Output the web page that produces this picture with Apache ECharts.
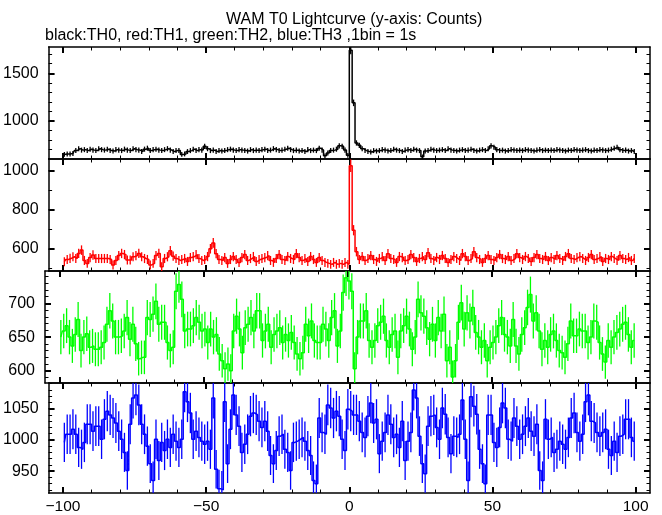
<!DOCTYPE html>
<html><head><meta charset="utf-8">
<script src="https://cdn.jsdelivr.net/npm/echarts@6/dist/echarts.min.js"></script>
<style>html,body{margin:0;padding:0;background:#fff}#c{width:662px;height:515px}</style>
</head><body><div id="c"></div>
<script>
const titleText = 'WAM T0 Lightcurve (y-axis: Counts)';
const subtitleText = 'black:TH0, red:TH1, green:TH2, blue:TH3 ,1bin = 1s';
const binStart = -99.5; // centre of first 1 s bin
const th0 = [
650,655,655,660,690,710,695,700,690,705,
695,690,710,700,695,705,690,685,700,695,
690,705,695,690,710,700,695,680,705,715,
690,700,705,695,690,700,710,695,680,690,
690,650,655,680,690,705,690,700,695,735,
710,690,695,680,690,685,690,700,705,695,
690,700,695,690,685,700,690,695,690,700,
705,690,695,710,700,690,695,705,715,700,
690,695,685,690,680,700,690,695,690,715,
695,635,665,690,695,705,740,735,695,640,
1740,1190,770,745,710,690,680,675,690,685,
690,700,695,685,690,705,695,690,680,695,
700,690,705,695,690,625,685,690,705,695,
690,695,700,690,710,695,690,685,695,700,
690,695,705,690,685,695,700,690,710,740,
725,700,690,695,685,690,700,695,690,695,
690,700,695,690,685,695,700,690,695,690,
695,690,700,695,690,685,695,690,700,695,
690,695,700,690,685,695,690,700,695,690,
695,705,715,725,700,690,695,685,690,680];
const th1 = [
534,545,551,559,550,576,593,540,525,555,
568,550,550,550,550,550,545,517,540,565,
576,570,542,542,559,565,576,559,550,545,
517,525,565,576,508,550,559,590,562,550,
540,545,550,535,555,560,570,550,540,545,
560,600,630,575,545,540,555,525,545,560,
545,530,555,570,540,550,560,535,545,550,
555,565,540,530,550,570,545,540,560,550,
545,575,555,540,550,535,560,545,530,555,
540,530,525,520,530,520,525,520,530,520,
1025,695,585,545,560,540,550,565,545,535,
550,560,540,575,550,545,530,560,555,540,
545,570,555,535,550,560,545,580,550,540,
555,545,565,550,530,545,560,550,540,575,
560,540,550,585,555,545,530,550,565,545,
540,555,570,550,545,560,540,550,575,555,
545,560,550,535,555,570,550,545,560,540,
555,545,565,550,540,560,575,550,545,555,
560,550,540,555,570,545,550,560,535,550,
545,560,550,540,565,550,545,555,540,550];
const th2 = [
650,659,667,650,637,654,676,630,650,655,
635,637,632,632,635,642,669,689,674,650,
650,652,659,679,647,669,640,618,620,620,
679,676,684,703,669,672,672,642,630,635,
718,728,706,659,662,662,667,679,672,659,
662,642,662,650,654,625,615,603,610,600,
659,681,662,627,664,669,679,659,689,689,
645,659,669,635,654,659,664,642,654,645,
657,642,625,618,627,669,652,674,645,642,
642,669,662,645,679,689,637,659,716,738,
733,718,603,650,674,674,689,645,635,645,
667,672,681,645,635,654,659,620,659,667,
681,662,632,650,706,686,681,664,647,669,
645,679,659,684,615,635,591,615,672,701,
662,686,674,694,657,650,635,645,615,635,
642,650,667,679,654,650,637,676,637,625,
654,664,694,713,674,686,659,632,645,635,
654,659,645,630,627,620,640,674,652,652,
662,659,659,642,650,674,672,642,625,613,
645,635,650,657,662,669,672,654,635,645];
const th3 = [
996,1009,1009,1017,1009,988,985,996,1025,1025,
1014,1022,1022,1001,1033,1046,1040,1035,1027,1014,
1001,980,951,1025,1067,1072,1056,1025,1009,990,
962,935,1001,967,996,983,1001,988,1009,998,
988,1001,1077,1061,1043,1001,1014,1004,998,993,
998,985,1067,953,922,920,1061,962,1017,1072,
1040,1022,980,993,1009,1038,1043,1040,1030,1020,
1030,1014,975,962,983,1006,1009,985,980,951,
996,998,1001,1004,998,983,975,935,930,1035,
1012,1009,1056,1051,1035,1046,1038,1001,983,1049,
1046,1040,1040,1030,1012,1004,1038,1059,1027,1033,
978,998,1012,1040,1025,1004,1009,988,1030,967,
998,1012,1080,1067,1006,962,946,1022,1038,1040,
1020,1001,1051,1041,1004,978,1006,1004,1009,1064,
1001,935,1069,1054,1041,985,962,930,1040,1040,
996,988,1020,1059,1051,1001,998,1035,1022,1001,
1009,1022,1035,1014,1006,1025,951,935,1033,1001,
1004,980,985,998,993,985,1004,1035,1043,1012,
998,1009,1061,1072,1030,1027,1012,1006,1012,1017,
985,975,998,980,1006,1009,1033,1033,1004,998];
const xMajorTicks = [-100,-50,0,50,100];
const xMinorTicks = [-100,-90,-80,-70,-60,-50,-40,-30,-20,-10,0,10,20,30,40,50,60,70,80,90,100];
const yMajorTicks = [[1000,1500],[600,800,1000],[600,650,700],[950,1000,1050]];
const yMinorTicks = [
  [700,800,900,1000,1100,1200,1300,1400,1500,1600,1700],
  [500,600,700,800,900,1000],
  [590,600,610,620,630,640,650,660,670,680,690,700,710,720,730,740],
  [920,930,940,950,960,970,980,990,1000,1010,1020,1030,1040,1050,1060,1070,1080,1090]];
const yRanges = [[602,1775],[486,1060],[582,748],[915,1091]];
const xRange = [-105,105];

const panels = [th0, th1, th2, th3];
const colors = ['#000000','#ff0000','#00ff00','#0000ff'];
const gridTops = [47,159,271,383];
const panelH = 112;
const FONT = 'Liberation Sans';
const minus = v => String(v).replace('-', '\u2212');

const grids = [], xAxes = [], yAxes = [], series = [];
panels.forEach((vals, g) => {
  grids.push({left:45, right:12, top:gridTops[g], height:panelH});
  const base = {type:'value', gridIndex:g, min:xRange[0], max:xRange[1], splitLine:{show:false}};
  const mkX = (pos, major, labels) => Object.assign({}, base, {
    position:pos,
    axisLine:{show:major, onZero:false, lineStyle:{color:'#000', width:1.5}},
    axisTick:{show:true, inside:true, length: major?6:3.5,
      customValues: major?xMajorTicks:xMinorTicks,
      lineStyle:{color:'#000', width: major?2:1}},
    axisLabel:{show:labels, customValues:xMajorTicks, formatter:minus,
      color:'#000', fontSize:15.5, fontFamily:FONT, margin:6}
  });
  xAxes.push(mkX('bottom', true, g===3), mkX('bottom', false, false),
             mkX('top', true, false), mkX('top', false, false));
  const ybase = {type:'value', gridIndex:g, min:yRanges[g][0], max:yRanges[g][1], splitLine:{show:false}};
  const mkY = (pos, major, labels) => Object.assign({}, ybase, {
    position:pos,
    axisLine:{show:major, onZero:false, lineStyle:{color:'#000', width:1.5}},
    axisTick:{show:true, inside:true, length: major?6:3.5,
      customValues: major?yMajorTicks[g]:yMinorTicks[g],
      lineStyle:{color:'#000', width: major?2:1}},
    axisLabel:{show:labels, customValues:yMajorTicks[g], formatter:v => String(v),
      color:'#000', fontSize:16, fontFamily:FONT, margin:10}
  });
  yAxes.push(mkY('left', true, true), mkY('left', false, false),
             mkY('right', true, false), mkY('right', false, false));
  const data = vals.map((v, i) => [binStart + i, v]);
  const [ymin, ymax] = yRanges[g];
  series.push({
    type:'line', xAxisIndex:4*g, yAxisIndex:4*g, data:data, step:'middle',
    showSymbol:false, symbol:'none', clip:true, animation:false,
    lineStyle:{color:colors[g], width:1.5}, itemStyle:{color:colors[g]}
  });
  series.push({
    type:'custom', xAxisIndex:4*g, yAxisIndex:4*g, data:data, clip:true, animation:false,
    renderItem:(params, api) => {
      const x = api.value(0), v = api.value(1), e = Math.sqrt(v);
      const lo = Math.max(v - e, ymin), hi = Math.min(v + e, ymax);
      const p1 = api.coord([x, lo]), p2 = api.coord([x, hi]);
      return {type:'line', shape:{x1:p1[0], y1:p1[1], x2:p2[0], y2:p2[1]},
        style:{stroke:colors[g], lineWidth:1.3}};
    }
  });
});

const chart = echarts.init(document.getElementById('c'), null, {renderer:'canvas'});
chart.setOption({
  animation:false,
  backgroundColor:'#fff',
  grid:grids, xAxis:xAxes, yAxis:yAxes, series:series,
  graphic:[
    {type:'text', left:226, top:12, style:{text:titleText, fill:'#000', font:'16px "Liberation Sans"'}},
    {type:'text', left:45, top:28, style:{text:subtitleText, fill:'#000', font:'16px "Liberation Sans"'}}
  ]
});
</script></body></html>
